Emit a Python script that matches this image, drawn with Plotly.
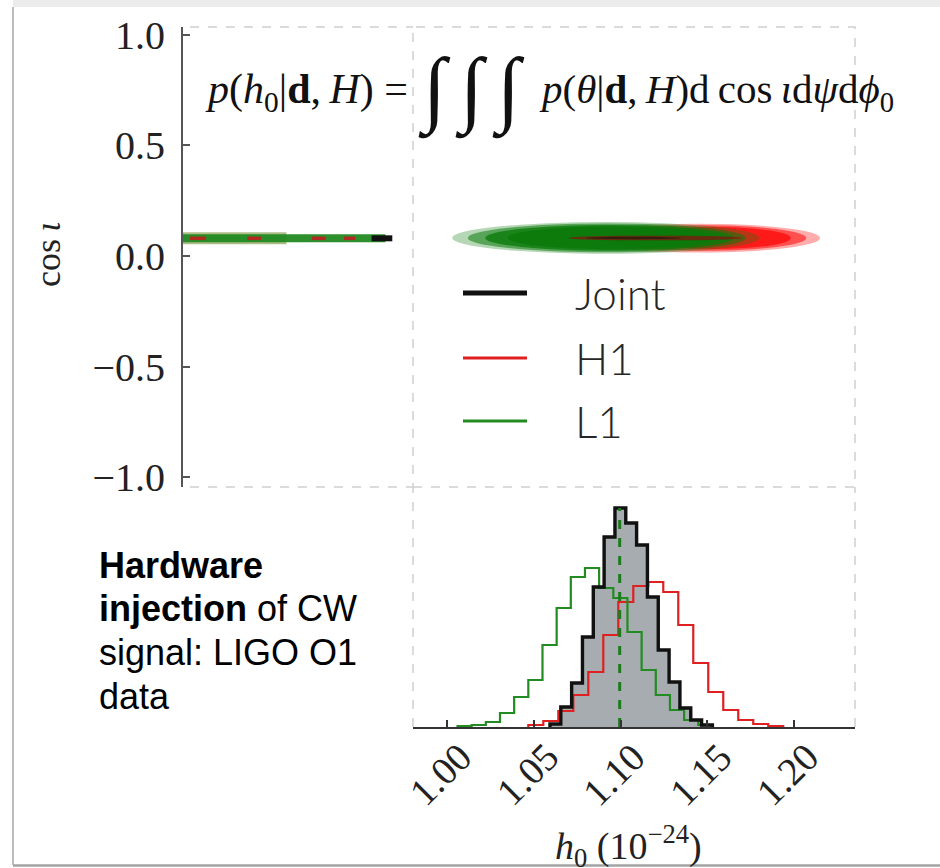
import plotly.graph_objects as go

# ---------------------------------------------------------------
# Data
# ---------------------------------------------------------------
series_names = ["Joint", "H1", "L1"]
series_colors = ["#111111", "#e02020", "#228b22"]

# h0 marginal histograms (units of 1e-24): first bin edge, bin width, heights
joint_start, joint_width = 1.05933, 0.006240
joint_heights = [3, 20, 44, 90, 140, 190, 219, 204, 182, 130, 77, 45, 19, 7, 2]

h1_start, h1_width = 1.04685, 0.008641
h1_heights = [2, 6, 16, 32, 55, 92, 125, 141, 145, 135, 102, 64, 35, 17, 7, 3, 1]

l1_start, l1_width = 1.00605, 0.008161
l1_heights = [1, 2, 5, 14, 30, 47, 82, 119, 150, 159, 139, 129, 95, 57, 32, 17, 7, 2]

h0_injected = 1.0995

h0_ticks = [1.00, 1.05, 1.10, 1.15, 1.20]
cosi_ticks = [-1.0, -0.5, 0.0, 0.5, 1.0]

# nested credible regions of the (h0, cos iota) samples:
# (h0_low, h0_high, cosi_low, cosi_high)
h1_regions = [
    (1.0750, 1.2150, 0.016, 0.146),
    (1.0900, 1.2070, 0.024, 0.139),
    (1.1100, 1.1980, 0.032, 0.131),
]
l1_regions = [
    (1.0030, 1.1800, 0.010, 0.154),
    (1.0120, 1.1720, 0.017, 0.147),
    (1.0220, 1.1650, 0.024, 0.140),
    (1.0350, 1.1550, 0.031, 0.133),
]
h1_core = (1.0700, 1.1700, 0.071, 0.092)
joint_core = (1.0800, 1.1350, 0.076, 0.087)

# squeezed sample strip in the left panel (fraction of the panel width)
strip_cosi = 0.080
strip_l1_wide = (0.0, 0.45)
strip_l1 = (0.0, 0.88)
strip_h1_bits = [(0.03, 0.10), (0.28, 0.34), (0.56, 0.62), (0.70, 0.75)]
strip_joint = (0.82, 0.91)

# ---------------------------------------------------------------
W, H = 940, 868


def px(x):
    return x / W


def py(y):
    return 1 - y / H


SERIF = "Liberation Serif"

fig = go.Figure()


def step_trace(start, width, heights, color, lw, fill=None, xa="x3", ya="y3"):
    edges = [start + i * width for i in range(len(heights) + 1)]
    xs = [edges[0]] + edges[:-1] + [edges[-1]]
    ys = [0] + list(heights) + [0]
    return go.Scatter(
        x=xs, y=ys, mode="lines", line=dict(color=color, width=lw, shape="hv"),
        fill="tozeroy" if fill else None, fillcolor=fill,
        xaxis=xa, yaxis=ya, hoverinfo="skip", showlegend=False,
    )


# bottom panel: marginal posteriors of h0
fig.add_trace(step_trace(joint_start, joint_width, joint_heights, "rgba(0,0,0,0)", 0, fill="#a6acaf"))
fig.add_trace(step_trace(h1_start, h1_width, h1_heights, series_colors[1], 2.2))
fig.add_trace(step_trace(l1_start, l1_width, l1_heights, series_colors[2], 2.2))
fig.add_trace(step_trace(joint_start, joint_width, joint_heights, series_colors[0], 3.4))
fig.add_trace(go.Scatter(
    x=[h0_injected, h0_injected], y=[0, max(joint_heights)], mode="lines",
    line=dict(color="#1c7c1c", width=3, dash="dash"),
    xaxis="x3", yaxis="y3", hoverinfo="skip", showlegend=False,
))


# left panel: squeezed strip of samples
def strip(seg, color, lw, opacity=1.0):
    return go.Scatter(
        x=list(seg), y=[strip_cosi, strip_cosi], mode="lines",
        line=dict(color=color, width=lw), opacity=opacity,
        xaxis="x", yaxis="y", hoverinfo="skip", showlegend=False,
    )


fig.add_trace(strip(strip_l1_wide, "#6f8a2a", 12, 0.55))
fig.add_trace(strip(strip_l1, series_colors[2], 8, 0.95))
for seg in strip_h1_bits:
    fig.add_trace(strip(seg, "#c02020", 3.5, 0.9))
fig.add_trace(strip(strip_joint, "#111111", 6))

shapes = []


# top-right panel: 2D sample clouds drawn as nested regions
def region(r, color, opacity):
    return dict(type="circle", xref="x2", yref="y2", x0=r[0], x1=r[1], y0=r[2], y1=r[3],
                fillcolor=color, opacity=opacity, line=dict(width=0), layer="above")


for r, op in zip(h1_regions, [0.35, 0.6, 0.85]):
    shapes.append(region(r, "#ff1010", op))
for r, op in zip(l1_regions, [0.3, 0.55, 0.8, 0.9]):
    shapes.append(region(r, "#0b7a0b", op))
shapes.append(region(h1_core, "#8a0f0f", 0.7))
shapes.append(region(joint_core, "#111111", 0.55))

# dashed panel frames
dash_line = dict(color="#cfcfcf", width=1.5, dash="dash")
# left panel: top and bottom edges only
for yv in (0, 1):
    shapes.append(dict(type="line", xref="x domain", yref="y domain", x0=0.03, x1=1, y0=yv, y1=yv,
                       line=dash_line, layer="below"))
# right panel: full frame
shapes.append(dict(type="rect", xref="x2 domain", yref="y2 domain", x0=0, x1=1, y0=0, y1=1,
                   line=dash_line, layer="below"))
# marginal panel: side edges
for xv in (0, 1):
    shapes.append(dict(type="line", xref="x3 domain", yref="y3 domain", x0=xv, x1=xv, y0=0, y1=1,
                       line=dash_line, layer="below"))

# legend
legend_y = [293, 358, 421]
legend_w = [5, 3, 3]
for name, col, yy, lw in zip(series_names, series_colors, legend_y, legend_w):
    shapes.append(dict(type="line", xref="paper", yref="paper",
                       x0=px(463), x1=px(527), y0=py(yy), y1=py(yy),
                       line=dict(color=col, width=lw)))

# page frame
shapes.append(dict(type="rect", xref="paper", yref="paper", x0=px(13), x1=1, y0=py(7), y1=1,
                   fillcolor="#ececec", line=dict(width=0)))
shapes.append(dict(type="line", xref="paper", yref="paper", x0=px(13), x1=px(13), y0=py(865), y1=py(7),
                   line=dict(color="#bdbdbd", width=2)))
shapes.append(dict(type="line", xref="paper", yref="paper", x0=px(13), x1=1, y0=py(865.5), y1=py(865.5),
                   line=dict(color="#a3a3a3", width=2.5)))

annotations = []
for name, yy in zip(series_names, legend_y):
    annotations.append(dict(text=name, xref="paper", yref="paper", x=px(573), y=py(yy),
                            xanchor="left", yanchor="middle", showarrow=False,
                            font=dict(family="Lato", size=44, color="#262626", weight=300)))

# marginalisation formula
formula_y = py(92)
annotations.append(dict(
    text="<i>p</i>(<i>h</i><sub>0</sub>|<b>d</b>,\u2009<i>H</i>)\u2005=",
    xref="paper", yref="paper", x=px(410), y=formula_y, xanchor="right", yanchor="middle",
    showarrow=False, font=dict(family=SERIF, size=42, color="#111111")))
for cx in [434, 471, 508]:
    annotations.append(dict(
        text="<i>∫</i>", xref="paper", yref="paper", x=px(cx), y=py(90), xanchor="center",
        yanchor="middle", showarrow=False, font=dict(family=SERIF, size=84, color="#111111")))
annotations.append(dict(
    text="<i>p</i>(<i>θ</i>|<b>d</b>,\u2009<i>H</i>)d\u2009cos\u2009<i>ι</i>d<i>ψ</i>d<i>ϕ</i><sub>0</sub>",
    xref="paper", yref="paper", x=px(537), y=formula_y, xanchor="left", yanchor="middle",
    showarrow=False, font=dict(family=SERIF, size=41, color="#111111")))

# axis titles
annotations.append(dict(text="cos\u2009<i>ι</i>", xref="paper", yref="paper", x=px(48), y=py(255),
                        textangle=-90, xanchor="center", yanchor="middle", showarrow=False,
                        font=dict(family=SERIF, size=36, color="#222222")))
annotations.append(dict(text="<i>h</i><sub>0</sub> (10<sup>−24</sup>)", xref="paper", yref="paper",
                        x=px(628), y=py(846), xanchor="center", yanchor="middle", showarrow=False,
                        font=dict(family=SERIF, size=38, color="#222222")))

# h0 tick labels, rotated and set just under the axis
for t in h0_ticks:
    annotations.append(dict(text=f"{t:.2f}", xref="x3", yref="y3", x=t, y=0,
                            xanchor="right", yanchor="top", xshift=35, yshift=-5,
                            textangle=-45, showarrow=False,
                            font=dict(family=SERIF, size=39, color="#222222")))

# caption
caption = [
    ("<b>Hardware</b>", 565),
    ("<b>injection</b> of CW", 608),
    ("signal: LIGO O1", 652),
    ("data", 696),
]
for txt, yy in caption:
    annotations.append(dict(text=txt, xref="paper", yref="paper", x=px(97), y=py(yy),
                            xanchor="left", yanchor="middle", showarrow=False,
                            font=dict(family="Liberation Sans", size=36, color="#000000")))

hidden = dict(showgrid=False, zeroline=False, showline=False, showticklabels=False, ticks="",
              automargin=False)

h0_range = [0.9804, 1.2351]
cosi_range = [-1.045, 1.036]
top_dom = [py(487), py(27)]

fig.update_layout(
    template="none",
    width=W, height=H, margin=dict(l=0, r=0, t=0, b=0, pad=0), autosize=False,
    paper_bgcolor="white", plot_bgcolor="rgba(0,0,0,0)", showlegend=False,
    xaxis=dict(domain=[px(183), px(413)], range=[0, 1], anchor="y", **hidden),
    yaxis=dict(domain=top_dom, range=cosi_range, anchor="x", automargin=False,
               tickvals=cosi_ticks, tickformat=".1f", ticks="inside", ticklen=7,
               tickwidth=1.5, tickcolor="#555555", showline=True, linecolor="#555555",
               linewidth=2, showgrid=False, zeroline=False, ticklabelstandoff=8,
               tickfont=dict(family=SERIF, size=40, color="#222222")),
    xaxis2=dict(domain=[px(413), px(855)], range=h0_range, anchor="y2", **hidden),
    yaxis2=dict(domain=top_dom, range=cosi_range, anchor="x2", **hidden),
    xaxis3=dict(domain=[px(413), px(855)], range=h0_range, anchor="y3", automargin=False,
                tickvals=h0_ticks, ticks="inside", ticklen=7, showticklabels=False,
                tickwidth=1.5, tickcolor="#333333", showline=True, linecolor="#333333",
                linewidth=2, showgrid=False, zeroline=False),
    yaxis3=dict(domain=[py(727), py(487)], range=[0, 240], anchor="x3", **hidden),
    shapes=shapes,
    annotations=annotations,
)

fig.write_html("out.html")
